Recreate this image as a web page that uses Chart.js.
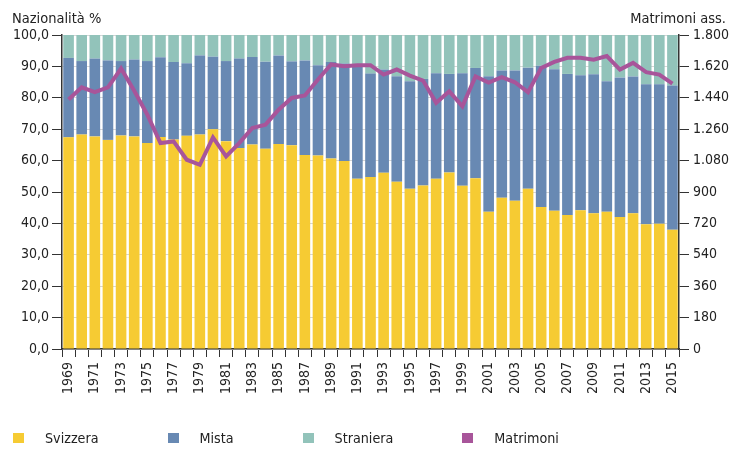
<!DOCTYPE html>
<html>
<head>
<meta charset="utf-8">
<script src="https://cdn.jsdelivr.net/npm/chart.js@4/dist/chart.umd.min.js"></script>
<style>
  body { margin: 0; background: #fff; }
  #wrap { position: relative; width: 731px; height: 449px; }
  #legend { position: absolute; left: 13px; top: 430px; display: flex; align-items: center;
            font: 14.2px "DejaVu Sans Condensed", "Liberation Sans Narrow", sans-serif; color: #222; }
  .item { display: flex; align-items: center; margin-right: 69px; }
  .box { width: 11px; height: 10px; margin-right: 21px; }
</style>
</head>
<body>
<div id="wrap">
  <canvas id="c" width="731" height="449"></canvas>
  <div id="legend"></div>
</div>
<script>
const years = ["1969","1970","1971","1972","1973","1974","1975","1976","1977","1978","1979","1980",
  "1981","1982","1983","1984","1985","1986","1987","1988","1989","1990","1991","1992","1993","1994",
  "1995","1996","1997","1998","1999","2000","2001","2002","2003","2004","2005","2006","2007","2008",
  "2009","2010","2011","2012","2013","2014","2015"];

// Quota di matrimoni (%) per nazionalità degli sposi
const svizzera = [67.4,68.3,67.7,66.6,68.0,67.7,65.6,67.5,66.7,67.9,68.3,70.0,
  66.2,64.0,65.1,63.8,65.3,64.9,61.8,61.6,60.7,59.9,54.2,54.8,56.1,53.3,
  51.0,52.1,54.2,56.2,52.0,54.4,43.7,48.2,47.2,51.0,45.2,44.0,42.7,44.2,
  43.2,43.7,42.0,43.2,39.7,39.9,38.0];
const mista = [25.3,23.4,24.8,25.3,23.7,24.5,26.1,25.4,24.7,23.1,25.2,23.1,
  25.5,28.5,27.9,27.7,28.2,26.7,30.1,28.8,30.7,31.0,36.4,32.9,32.9,33.6,
  34.3,33.9,33.6,31.4,35.8,35.1,43.2,40.5,41.5,38.6,45.0,45.1,44.9,43.0,
  44.3,41.6,44.5,43.6,44.6,44.4,45.9];
const straniera = [7.3,8.3,7.5,8.1,8.3,7.8,8.3,7.1,8.6,9.0,6.5,6.9,
  8.3,7.5,7.0,8.5,6.5,8.4,8.1,9.6,8.6,9.1,9.4,12.3,11.0,13.1,
  14.7,14.0,12.2,12.4,12.2,10.5,13.1,11.3,11.3,10.4,9.8,10.9,12.4,12.8,
  12.5,14.7,13.5,13.2,15.7,15.7,16.1];
// Matrimoni, valori assoluti
const matrimoni = [1430,1500,1472,1500,1608,1480,1343,1181,1190,1085,1056,1213,
  1104,1180,1267,1286,1372,1439,1453,1545,1631,1621,1627,1627,1573,1602,
  1567,1539,1411,1477,1391,1562,1527,1558,1529,1472,1611,1646,1669,1669,
  1658,1679,1602,1640,1587,1573,1521];

const FONT = '"DejaVu Sans Condensed", "Liberation Sans Narrow", sans-serif';
const FS = 14;
const TXT = '#222';
const AX = '#333';
const COL = { svizzera: '#F6CB33', mista: '#6889B3', straniera: '#92C3BA', matrimoni: '#A8559A' };

function fmtThousands(v) {
  if (v >= 1000) return Math.floor(v / 1000) + '.' + String(v % 1000).padStart(3, '0');
  return String(v);
}

const axisTitles = {
  id: 'axisTitles',
  afterDraw(chart) {
    const ctx = chart.ctx;
    ctx.save();
    ctx.font = '14.5px ' + FONT;
    ctx.fillStyle = TXT;
    ctx.textBaseline = 'middle';
    ctx.textAlign = 'left';
    ctx.fillText('Nazionalità %', 12, 19);
    ctx.textAlign = 'right';
    ctx.fillText('Matrimoni ass.', chart.width - 5, 19);
    ctx.restore();
  }
};

const chart = new Chart(document.getElementById('c'), {
  data: {
    labels: years,
    datasets: [
      { type: 'line', label: 'Matrimoni', data: matrimoni, yAxisID: 'y1', order: 0,
        borderColor: COL.matrimoni, backgroundColor: COL.matrimoni, borderWidth: 4,
        pointRadius: 0, tension: 0, fill: false },
      { type: 'bar', label: 'Svizzera', data: svizzera, yAxisID: 'y', order: 1,
        backgroundColor: COL.svizzera, barPercentage: 0.81, categoryPercentage: 1 },
      { type: 'bar', label: 'Mista', data: mista, yAxisID: 'y', order: 1,
        backgroundColor: COL.mista, barPercentage: 0.81, categoryPercentage: 1 },
      { type: 'bar', label: 'Straniera', data: straniera, yAxisID: 'y', order: 1,
        backgroundColor: COL.straniera, barPercentage: 0.81, categoryPercentage: 1 }
    ]
  },
  options: {
    responsive: false,
    animation: false,
    layout: { padding: { top: 35, left: 0, right: 0, bottom: 0 } },
    plugins: { legend: { display: false }, tooltip: { enabled: false } },
    scales: {
      x: {
        stacked: true,
        offset: true,
        grid: { offset: true, drawOnChartArea: false, drawTicks: true, tickLength: 8, tickColor: AX, color: AX, tickWidth: 1 },
        border: { color: AX, width: 1.5 },
        ticks: { autoSkip: false, minRotation: 90, maxRotation: 90, padding: 5, color: TXT,
          font: { family: FONT, size: FS },
          callback(v, i) { return i % 2 === 0 ? this.getLabelForValue(v) : ''; } },
        afterFit(s) { s.height = 100; }
      },
      y: {
        stacked: true,
        position: 'left',
        min: 0, max: 100,
        grid: { color: '#d6d6d6', lineWidth: 1, tickColor: AX, tickLength: 10, tickWidth: 1 },
        border: { color: AX, width: 1.5 },
        ticks: { stepSize: 10, padding: 3, color: TXT, font: { family: FONT, size: FS },
          callback: v => v.toFixed(1).replace('.', ',') },
        afterFit(s) { s.width = 62; }
      },
      y1: {
        position: 'right',
        min: 0, max: 1800,
        grid: { drawOnChartArea: false, tickColor: AX, tickLength: 10, tickWidth: 1 },
        border: { color: AX, width: 1.5 },
        ticks: { stepSize: 180, padding: 4, color: TXT, font: { family: FONT, size: FS },
          callback: v => fmtThousands(v) },
        afterFit(s) { s.width = 52; }
      }
    }
  },
  plugins: [axisTitles]
});

// HTML legend built from the chart's own legend items
const order = ['Svizzera', 'Mista', 'Straniera', 'Matrimoni'];
const items = chart.options.plugins.legend.labels.generateLabels(chart)
  .sort((a, b) => order.indexOf(a.text) - order.indexOf(b.text));
const leg = document.getElementById('legend');
items.forEach(it => {
  const d = document.createElement('div');
  d.className = 'item';
  const b = document.createElement('span');
  b.className = 'box';
  b.style.background = it.fillStyle;
  const t = document.createElement('span');
  t.textContent = it.text;
  d.appendChild(b); d.appendChild(t);
  leg.appendChild(d);
});
</script>
</body>
</html>
